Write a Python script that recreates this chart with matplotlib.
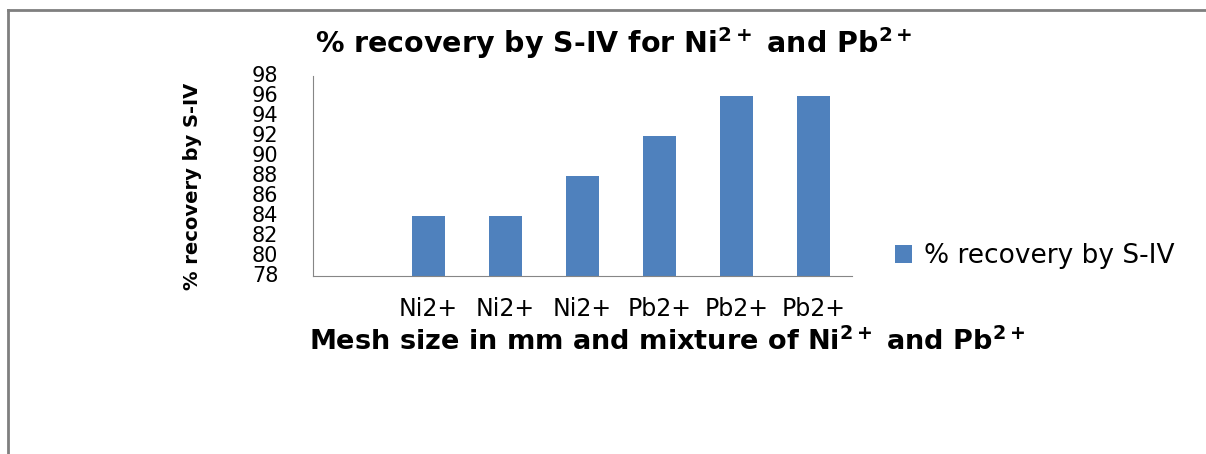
import numpy as np
import matplotlib
matplotlib.use("Agg")
import matplotlib.pyplot as plt
from matplotlib.lines import Line2D

# recovery by S-IV for each mesh size / metal ion (first slot left blank)
categories = ['', 'Ni2+', 'Ni2+', 'Ni2+', 'Pb2+', 'Pb2+', 'Pb2+']
recovery = [np.nan, 84, 84, 88, 92, 96, 96]
yticks = list(range(78, 99, 2))

bar_color = '#4F81BD'
axis_color = '#868686'

plt.rcParams['font.family'] = ['DejaVu Sans']

fig = plt.figure(figsize=(12.06, 4.54), dpi=100)
ax = fig.add_axes([0.2595, 0.392, 0.447, 0.4405])

x = np.arange(len(categories))
ax.bar(x, recovery, width=0.42, color=bar_color, label='% recovery by S-IV')

ax.set_xlim(-0.5, len(categories) - 0.5)
ax.set_ylim(78, 98)
ax.set_yticks(yticks)
ax.set_xticks(x)
ax.set_xticklabels(categories, fontsize=17)
ax.tick_params(axis='y', labelsize=15, length=0, pad=25)
ax.tick_params(axis='x', length=0, pad=15)
for lab in ax.get_yticklabels():
    lab.set_verticalalignment('center')

for side in ['top', 'right']:
    ax.spines[side].set_visible(False)
for side in ['left', 'bottom']:
    ax.spines[side].set_color(axis_color)

ax.set_ylabel('% recovery by S-IV', fontsize=14, fontweight='bold')
ax.yaxis.set_label_coords(-0.205, 0.45)
ax.set_xlabel(r'Mesh size in mm and mixture of Ni$^{\mathbf{2+}}$ and Pb$^{\mathbf{2+}}$',
              fontsize=19.5, fontweight='bold', ha='left')
ax.xaxis.set_label_coords(-0.007, -0.255)
fig.text(0.509, 0.905,
         r'% recovery by S-IV for Ni$^{\mathbf{2+}}$ and Pb$^{\mathbf{2+}}$',
         fontsize=20.5, fontweight='bold', ha='center', va='center')

ax.legend(loc='center left', bbox_to_anchor=(1.035, 0.1), frameon=False,
          fontsize=19, handlelength=0.65, handleheight=0.65, handletextpad=0.45)

# outer chart frame, running off the right and bottom edges
fig.add_artist(Line2D([0.0066, 1.0], [0.979, 0.979], color='#7f7f7f', lw=2,
                      transform=fig.transFigure))
fig.add_artist(Line2D([0.0066, 0.0066], [0.0, 0.979], color='#7f7f7f', lw=2,
                      transform=fig.transFigure))

fig.savefig('out.png', dpi=100)
